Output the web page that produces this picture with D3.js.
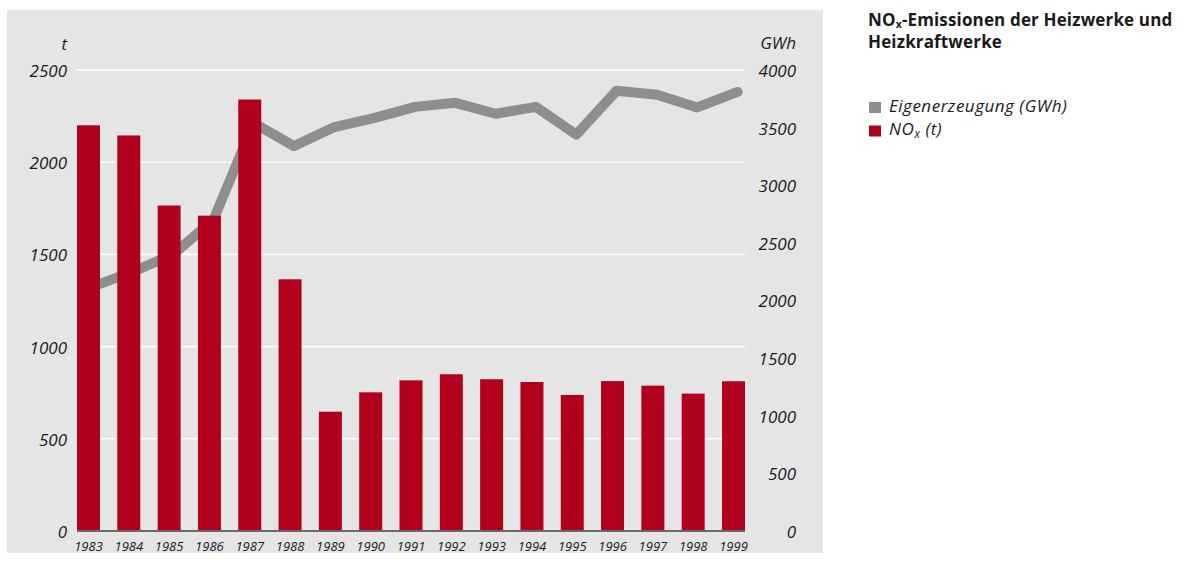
<!DOCTYPE html>
<html>
<head>
<meta charset="utf-8">
<script src="https://cdn.jsdelivr.net/npm/d3@7"></script>
<style>
  html, body { margin: 0; padding: 0; background: #fff; }
  svg { display: block; }
  text { font-family: "Open Sans", "Noto Sans", sans-serif; fill: #1a1a1a; }
</style>
</head>
<body>
<svg id="chart" width="1186" height="562"></svg>
<script>
// ---- data ----
const years = ["1983","1984","1985","1986","1987","1988","1989","1990","1991","1992","1993","1994","1995","1996","1997","1998","1999"];
const noxTons = [2200, 2145, 1765, 1710, 2340, 1365, 647, 752, 817, 850, 823, 808, 738, 813, 788, 745, 812];
const ownGenerationGWh = [2120, 2250, 2400, 2700, 3540, 3340, 3505, 3585, 3680, 3715, 3620, 3680, 3440, 3820, 3785, 3675, 3810];
const leftTicks = [0, 500, 1000, 1500, 2000, 2500];
const rightTicks = [0, 500, 1000, 1500, 2000, 2500, 3000, 3500, 4000];
const legendItems = [
  { label: "Eigenerzeugung (GWh)", key: "gwh" },
  { label: "NO", sub: "x", suffix: " (t)", key: "nox" }
];

const colors = { nox: "#b0001b", gwh: "#8e8e8e", panel: "#e5e5e5" };

const svg = d3.select("#chart");

// panel
svg.append("rect").attr("x", 7).attr("y", 10).attr("width", 816).attr("height", 543)
  .attr("fill", colors.panel);

const x = d3.scaleBand().domain(years).range([77, 745]).paddingInner(0.43).paddingOuter(0);
const yL = d3.scaleLinear().domain([0, 2500]).range([531, 70]);
const yR = d3.scaleLinear().domain([0, 4000]).range([531, 70]);

// gridlines
svg.append("g").selectAll("line").data(leftTicks.filter(d => d > 0)).join("line")
  .attr("x1", 77).attr("x2", 745)
  .attr("y1", d => yL(d)).attr("y2", d => yL(d))
  .attr("stroke", "#fff").attr("stroke-width", 1.6);

// line (behind bars)
const line = d3.line()
  .x((d, i) => x(years[i]) + x.bandwidth() / 2 + 4)
  .y(d => yR(d));
svg.append("path").datum(ownGenerationGWh)
  .attr("d", line).attr("fill", "none")
  .attr("stroke", colors.gwh).attr("stroke-width", 10)
  .attr("stroke-linejoin", "round").attr("stroke-linecap", "round");

// bars
svg.append("g").selectAll("rect").data(noxTons).join("rect")
  .attr("x", (d, i) => x(years[i]))
  .attr("width", x.bandwidth())
  .attr("y", d => yL(d))
  .attr("height", d => yL(0) - yL(d))
  .attr("fill", colors.nox);

// baseline
svg.append("line").attr("x1", 77).attr("x2", 745).attr("y1", yL(0)).attr("y2", yL(0))
  .attr("stroke", "#6a6a6a").attr("stroke-width", 2);

// left axis
const gL = svg.append("g").attr("transform", "translate(77,0)")
  .call(d3.axisLeft(yL).tickValues(leftTicks).tickSize(0).tickPadding(10).tickFormat(d3.format("d")));
gL.select(".domain").remove();
gL.selectAll("text").attr("font-family", "Open Sans, sans-serif").attr("font-size", 17)
  .attr("font-style", "italic").attr("fill", "#1a1a1a").attr("dy", "0.38em");

// right axis
const gR = svg.append("g").attr("transform", "translate(745,0)")
  .call(d3.axisRight(yR).tickValues(rightTicks).tickSize(0).tickFormat(d3.format("d")));
gR.select(".domain").remove();
gR.selectAll("text").attr("x", 51).attr("text-anchor", "end")
  .attr("font-family", "Open Sans, sans-serif").attr("font-size", 17)
  .attr("font-style", "italic").attr("fill", "#1a1a1a").attr("dy", "0.38em");

// bottom axis
const gB = svg.append("g").attr("transform", `translate(0,${yL(0)})`)
  .call(d3.axisBottom(x).tickSize(0).tickPadding(11));
gB.select(".domain").remove();
gB.selectAll("text").attr("font-family", "Open Sans, sans-serif").attr("font-size", 13)
  .attr("font-style", "italic").attr("fill", "#1a1a1a");

// unit labels
svg.append("text").attr("x", 67).attr("y", 50).attr("text-anchor", "end")
  .attr("font-size", 17).attr("font-style", "italic").text("t");
svg.append("text").attr("x", 796).attr("y", 49).attr("text-anchor", "end")
  .attr("font-size", 17).attr("font-style", "italic").text("GWh");

// title
const title = svg.append("text").attr("x", 868).attr("y", 26)
  .attr("font-size", 17).attr("font-weight", "bold").attr("letter-spacing", 0.15);
title.append("tspan").text("NO");
title.append("tspan").attr("font-size", 10.5).attr("dy", 2).text("x");
title.append("tspan").attr("dy", -2).text("-Emissionen der Heizwerke und");
svg.append("text").attr("x", 868).attr("y", 48)
  .attr("font-size", 17).attr("font-weight", "bold").attr("letter-spacing", 0.15).text("Heizkraftwerke");

// legend
const lg = svg.append("g");
legendItems.forEach((it, i) => {
  const yy = 102 + i * 23.5;
  lg.append("rect").attr("x", 869).attr("y", yy).attr("width", 12).attr("height", 11)
    .attr("fill", colors[it.key]);
  const t = lg.append("text").attr("x", 889).attr("y", yy + 9.5)
    .attr("font-size", 17).attr("font-style", "italic").attr("letter-spacing", 0.5);
  t.append("tspan").text(it.label);
  if (it.sub) {
    t.append("tspan").attr("font-size", 12).attr("dy", 3).text(it.sub);
    t.append("tspan").attr("dy", -3).text(it.suffix);
  }
});
</script>
</body>
</html>
